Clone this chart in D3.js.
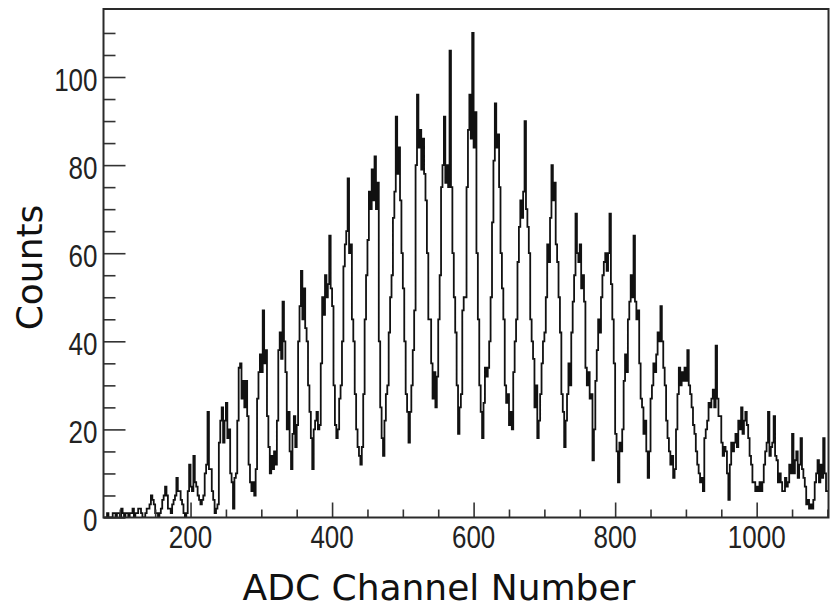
<!DOCTYPE html>
<html>
<head>
<meta charset="utf-8">
<script src="https://cdn.jsdelivr.net/npm/d3@7"></script>
<style>
  html, body { margin: 0; padding: 0; background: #fff; }
  svg { display: block; }
</style>
</head>
<body>
<svg id="chart" width="830" height="608"></svg>
<script>
// ADC pulse-height spectrum, 2-channel bins starting at channel 78
// (each row below covers 30 channels)
const binStart = 78;
const binWidth = 2;
const counts = [
  0,0,1,0,0,0,1,1,0,1,1,0,2,1,0,            // 78-107
  1,1,0,1,1,2,0,1,1,2,2,1,0,0,1,            // 108-137
  2,2,3,5,4,3,1,1,0,1,2,4,5,7,5,            // 138-167
  2,2,1,3,4,5,9,6,6,4,3,1,0,1,6,            // 168-197
  12,7,6,14,8,7,5,4,3,4,5,10,12,24,11,      // 198-227
  11,6,4,1,2,3,17,22,25,17,22,26,18,20,10,  // 228-257
  8,2,9,10,22,34,35,27,31,25,31,23,12,8,6,  // 258-287
  8,5,11,27,33,37,33,47,35,38,23,16,10,14,11,      // 288-317
  15,12,22,38,42,36,49,40,33,20,24,15,11,19,23,    // 318-347
  16,21,40,48,56,45,52,43,40,30,24,18,11,20,22,    // 348-377
  24,20,21,35,50,46,55,50,53,64,52,48,30,21,18,    // 378-407
  20,27,30,40,57,62,65,77,60,62,45,40,28,20,16,    // 408-437
  14,12,16,28,45,55,63,74,70,79,72,82,70,76,40,    // 438-467
  25,18,14,22,28,30,42,50,55,68,74,91,78,84,72,    // 468-497
  60,52,40,28,24,17,24,30,38,47,80,96,84,88,79,    // 498-527
  86,78,72,60,45,45,35,27,33,25,32,45,55,75,80,    // 528-557
  91,76,80,75,106,75,60,50,42,30,19,25,28,47,50,   // 558-587
  50,75,88,96,86,110,84,92,60,45,30,24,18,26,34,   // 588-617
  32,34,40,50,67,81,94,84,87,75,60,52,45,30,26,    // 618-647
  28,21,24,20,33,40,45,58,66,72,68,74,90,70,66,    // 648-677
  60,45,40,36,25,30,18,22,28,35,40,42,50,62,58,    // 678-707
  68,80,72,76,62,58,50,42,28,24,16,22,28,35,30,    // 708-737
  42,49,55,69,60,58,62,52,55,49,34,30,33,27,28,    // 738-767
  13,20,31,38,45,42,50,55,58,60,56,60,69,53,45,    // 768-797
  35,19,15,8,17,15,20,31,37,33,45,49,55,50,64,     // 798-827
  49,45,47,35,27,25,19,22,15,9,15,27,30,35,33,     // 828-857
  37,42,40,48,40,34,30,22,18,15,12,14,9,11,20,     // 858-887
  28,34,30,33,31,34,31,38,30,28,25,21,19,15,12,    // 888-917
  10,8,9,6,18,20,22,26,25,27,29,25,39,27,23,       // 918-947
  23,17,14,16,15,10,4,12,17,15,17,19,16,22,20,     // 948-977
  25,19,22,24,21,18,14,12,8,8,6,7,6,8,6,           // 978-1007
  8,12,15,17,24,14,16,17,23,14,13,8,10,8,6,        // 1008-1037
  6,9,7,8,12,10,19,10,13,15,9,12,18,11,9,          // 1038-1067
  7,3,4,2,3,2,4,8,10,13,8,12,9,18,10,              // 1068-1097
  6,6                                              // 1098-1101
];

const xLabelValues = [200, 400, 600, 800, 1000];
const yLabelValues = [0, 20, 40, 60, 80, 100];
const xTitle = "ADC Channel Number";
const yTitle = "Counts";

const svg = d3.select("#chart");

const plotLeft = 103.5, plotRight = 828.5, plotTop = 9, plotBottom = 517.5;
const x = d3.scaleLinear().domain([77, 1101.5]).range([plotLeft, plotRight]);
const y = d3.scaleLinear().domain([0, 115.44]).range([plotBottom, plotTop]);

svg.append("defs").append("clipPath").attr("id", "plot-clip")
  .append("rect").attr("x", plotLeft).attr("y", plotTop)
  .attr("width", plotRight - plotLeft).attr("height", plotBottom - plotTop);

// histogram drawn as a step outline
const pts = counts.map((c, i) => ({ ch: binStart + i * binWidth, v: c }));
pts.unshift({ ch: binStart, v: 0 });
pts.push({ ch: binStart + counts.length * binWidth, v: counts[counts.length - 1] });

const step = d3.line()
  .x(d => x(d.ch))
  .y(d => y(d.v))
  .curve(d3.curveStepAfter);

svg.append("path")
  .datum(pts)
  .attr("clip-path", "url(#plot-clip)")
  .attr("fill", "none")
  .attr("stroke", "#111")
  .attr("stroke-width", 1.8)
  .attr("stroke-linejoin", "miter")
  .attr("d", step);

// inward ticks, longer at labelled values
const xAxis = d3.axisBottom(x)
  .tickValues(d3.range(100, 1101, 50))
  .tickSize(-8).tickFormat("");
const gx = svg.append("g").attr("transform", `translate(0,${plotBottom})`).call(xAxis);
gx.select(".domain").remove();
gx.selectAll(".tick line")
  .attr("stroke", "#333").attr("stroke-width", 1.6)
  .attr("y2", d => (d % 200 === 0 ? -15 : -8));

const yAxis = d3.axisLeft(y)
  .tickValues(d3.range(0, 111, 5))
  .tickSize(-12).tickFormat("");
const gy = svg.append("g").attr("transform", `translate(${plotLeft},0)`).call(yAxis);
gy.select(".domain").remove();
gy.selectAll(".tick line")
  .attr("stroke", "#333").attr("stroke-width", 1.6)
  .attr("x2", d => (d % 20 === 0 ? 22 : 12));

// frame
svg.append("rect")
  .attr("x", plotLeft).attr("y", plotTop)
  .attr("width", plotRight - plotLeft).attr("height", plotBottom - plotTop)
  .attr("fill", "none").attr("stroke", "#2a2a2a").attr("stroke-width", 2);

// tick labels
const labelFont = "'Liberation Sans', Arial, sans-serif";
svg.append("g").selectAll("text").data(xLabelValues).join("text")
  .attr("transform", d => `translate(${x(d)},548) scale(1,1.18)`)
  .attr("text-anchor", "middle")
  .attr("font-family", labelFont).attr("font-size", 26)
  .attr("fill", "#222")
  .text(d => d);

svg.append("g").selectAll("text").data(yLabelValues).join("text")
  .attr("transform", d => `translate(97.5,${y(d) + 13.5}) scale(1,1.18)`)
  .attr("text-anchor", "end")
  .attr("font-family", labelFont).attr("font-size", 26)
  .attr("fill", "#222")
  .text(d => d);

// axis titles
const titleFont = "'DejaVu Sans', Verdana, sans-serif";
svg.append("text")
  .attr("x", 439).attr("y", 600)
  .attr("text-anchor", "middle")
  .attr("font-family", titleFont).attr("font-size", 36)
  .attr("fill", "#111")
  .text(xTitle);

svg.append("text")
  .attr("transform", "translate(41.5,267.5) rotate(-90)")
  .attr("text-anchor", "middle")
  .attr("font-family", titleFont).attr("font-size", 36)
  .attr("fill", "#111")
  .text(yTitle);
</script>
</body>
</html>
